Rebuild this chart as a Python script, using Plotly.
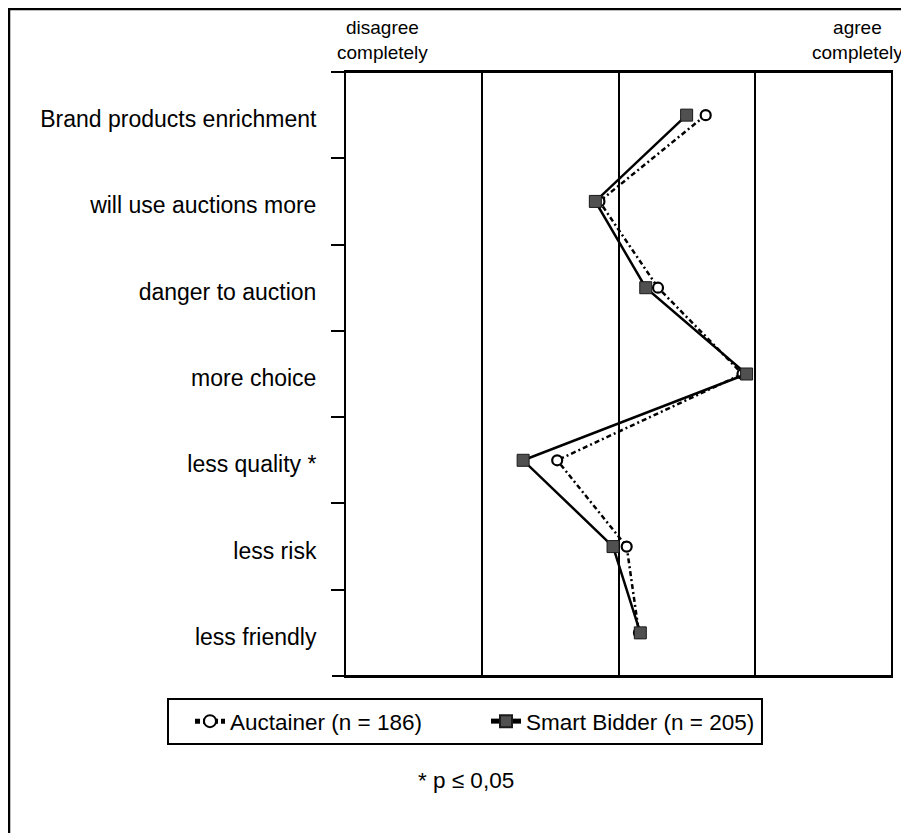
import plotly.graph_objects as go

categories = ["Brand products enrichment", "will use auctions more", "danger to auction",
              "more choice", "less quality *", "less risk", "less friendly"]
auctainer = [3.64, 2.86, 3.29, 3.91, 2.55, 3.06, 3.15]
smart_bidder = [3.50, 2.83, 3.20, 3.94, 2.30, 2.96, 3.16]
series_names = ["Auctainer (n = 186)", "Smart Bidder (n = 205)"]
scale_ticks = [1, 2, 3, 4, 5]
FONT = "Liberation Sans, Arial, sans-serif"

# the page body has an 8px margin; window coords are converted via plot area (346..891, 72..676)
PX0, PW, PY0, PH = 346, 545, 72, 604
def px(xw):
    return (xw - PX0) / PW
def py(yw):
    return (PY0 + PH - yw) / PH

fig = go.Figure()
fig.add_trace(go.Scatter(
    x=auctainer, y=categories, name=series_names[0], mode="lines+markers",
    line=dict(color="black", width=2.5, dash="5px,3px,2px,3px"),
    marker=dict(symbol="circle", size=10, color="white", line=dict(width=2.2, color="black")),
))
fig.add_trace(go.Scatter(
    x=smart_bidder, y=categories, name=series_names[1], mode="lines+markers",
    line=dict(color="black", width=2.5),
    marker=dict(symbol="square", size=12, color="#505050", line=dict(width=1, color="#1a1a1a")),
))

fig.update_layout(
    width=901, height=825,
    margin=dict(l=PX0 - 8, r=18, t=PY0 - 8, b=825 - (PY0 - 8) - PH),
    paper_bgcolor="white", plot_bgcolor="white",
    font=dict(family=FONT, color="black"),
    showlegend=True,
    legend=dict(orientation="h", x=px(167), xanchor="left", y=py(698), yanchor="top",
                bordercolor="black", borderwidth=2, font=dict(size=22.5, family=FONT),
                entrywidth=230, indentation=21, itemsizing="constant"),
    xaxis=dict(range=[1, 5], tickvals=scale_ticks[1:-1], showticklabels=False, ticks="",
               showgrid=True, gridcolor="black", gridwidth=2, zeroline=False,
               showline=True, mirror=True, linecolor="black", linewidth=2),
    yaxis=dict(type="category", categoryorder="array", categoryarray=categories,
               range=[len(categories) - 0.5, -0.5], autorange=False,
               tickson="boundaries", ticks="outside", ticklen=13,
               tickwidth=2, tickcolor="black", showgrid=False, zeroline=False,
               showline=True, mirror=True, linecolor="black", linewidth=2,
               tickfont=dict(size=23, family=FONT), ticklabelstandoff=23, ticklabelshift=-4),
)

fig.add_annotation(xref="paper", yref="paper", x=px(382), y=py(40),
                   text="disagree<br>completely", showarrow=False, font=dict(size=19, family=FONT),
                   xanchor="center", yanchor="middle", align="center")
fig.add_annotation(xref="paper", yref="paper", x=px(857), y=py(40),
                   text="agree<br>completely", showarrow=False, font=dict(size=19, family=FONT),
                   xanchor="center", yanchor="middle", align="center")
fig.add_annotation(xref="paper", yref="paper", x=px(466), y=py(780),
                   text="* p \u2264 0,05", showarrow=False, font=dict(size=22.5, family=FONT),
                   xanchor="center", yanchor="middle")
for yy in (0, 1):
    fig.add_shape(type="line", xref="paper", yref="paper", x0=px(332), x1=px(893), y0=yy, y1=yy,
                  line=dict(color="black", width=2))
fig.add_shape(type="rect", xref="paper", yref="paper",
              x0=px(9), x1=px(915), y0=py(845), y1=py(9),
              line=dict(color="black", width=2.5), layer="below")

fig.write_html("out.html")
